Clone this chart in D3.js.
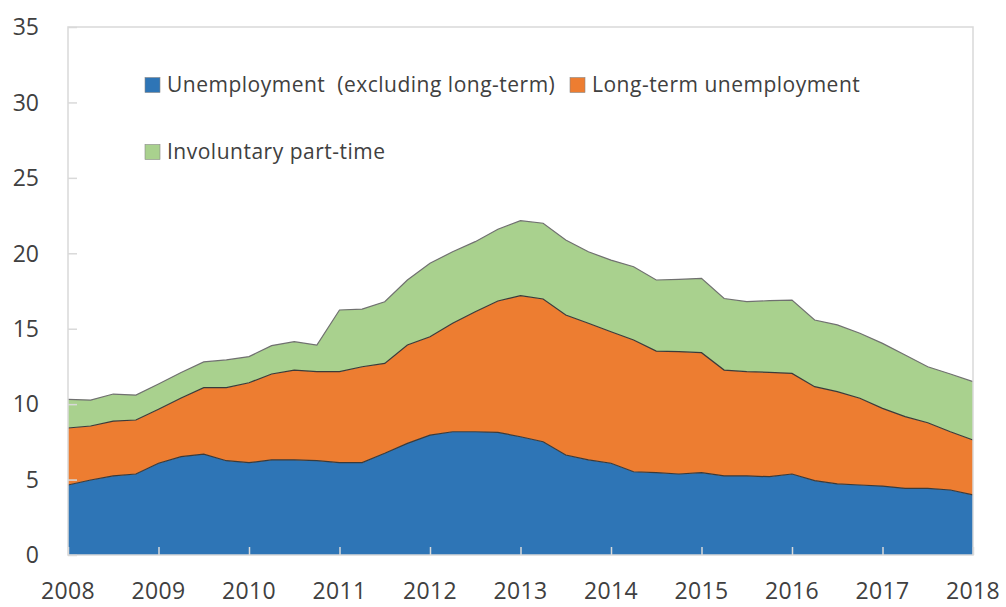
<!DOCTYPE html>
<html>
<head>
<meta charset="utf-8">
<script src="https://cdn.jsdelivr.net/npm/d3@7"></script>
<style>
  body { margin: 0; background: #fff; }
  svg { display: block; font-family: "Open Sans", "Noto Sans", sans-serif; }
</style>
</head>
<body>
<div id="chart"></div>
<script>
// quarterly, 2008Q1 .. 2018Q1
const startYear = 2008;
const unemployment = [4.64, 4.97, 5.24, 5.37, 6.08, 6.52, 6.69, 6.25, 6.12, 6.3, 6.3, 6.25, 6.12, 6.12, 6.74, 7.4,
    7.95, 8.17, 8.17, 8.13, 7.84, 7.51, 6.63, 6.3, 6.08, 5.52, 5.46, 5.37, 5.46, 5.24, 5.24, 5.19,
    5.37, 4.93, 4.71, 4.64, 4.57, 4.42, 4.42, 4.31, 3.98];
const longTerm = [3.78, 3.58, 3.64, 3.58, 3.58, 3.89, 4.4, 4.84, 5.3, 5.7, 5.96, 5.9, 6.03, 6.36, 5.96, 6.52,
    6.52, 7.19, 7.96, 8.71, 9.35, 9.46, 9.28, 9.06, 8.72, 8.73, 8.06, 8.11, 7.95, 7.02, 6.91, 6.92,
    6.67, 6.23, 6.12, 5.75, 5.15, 4.75, 4.35, 3.86, 3.64];
const partTime = [1.9, 1.72, 1.79, 1.65, 1.67, 1.69, 1.71, 1.84, 1.73, 1.88, 1.88, 1.77, 4.09, 3.82, 4.09, 4.31,
    4.87, 4.74, 4.64, 4.75, 4.97, 5.02, 4.97, 4.74, 4.75, 4.86, 4.71, 4.79, 4.93, 4.74, 4.64, 4.75,
    4.86, 4.42, 4.42, 4.31, 4.31, 4.09, 3.71, 3.83, 3.87];
const yearTicks = d3.range(2008, 2019);
const yTicks = [0, 5, 10, 15, 20, 25, 30, 35];

const keys = ['unemp', 'longterm', 'parttime'];
const labels = {
    unemp: 'Unemployment  (excluding long-term)',
    longterm: 'Long-term unemployment',
    parttime: 'Involuntary part-time'
};
const colors = { unemp: '#2e75b6', longterm: '#ed7d31', parttime: '#a9d18e' };

const data = unemployment.map((v, i) => ({
    t: startYear + i / 4,
    unemp: v,
    longterm: longTerm[i],
    parttime: partTime[i]
}));

const width = 1006, height = 607;
const margin = { top: 27, right: 33, bottom: 52, left: 68 };

const svg = d3.select('#chart').append('svg')
    .attr('width', width)
    .attr('height', height);

const x = d3.scaleLinear()
    .domain([2008, 2018])
    .range([margin.left, width - margin.right]);

const y = d3.scaleLinear()
    .domain([0, 35])
    .range([height - margin.bottom, margin.top]);

const stacked = d3.stack().keys(keys)(data);

const area = d3.area()
    .x(d => x(d.data.t))
    .y0(d => y(d[0]))
    .y1(d => y(d[1]));

const topLine = d3.line()
    .x(d => x(d.data.t))
    .y(d => y(d[1]));

svg.append('g')
    .selectAll('path')
    .data(stacked)
    .join('path')
    .attr('fill', d => colors[d.key])
    .attr('d', area);

svg.append('g')
    .selectAll('path')
    .data(stacked)
    .join('path')
    .attr('fill', 'none')
    .attr('stroke', d => d.key === 'parttime' ? '#707070' : '#3a3a3a')
    .attr('stroke-width', 1.2)
    .attr('d', topLine);

// frame
const frameColor = '#d9d9d9';
svg.append('rect')
    .attr('x', x(2008))
    .attr('y', y(35))
    .attr('width', x(2018) - x(2008))
    .attr('height', y(0) - y(35))
    .attr('fill', 'none')
    .attr('stroke', frameColor)
    .attr('stroke-width', 1.5);

// y axis
const yAxis = svg.append('g')
    .attr('transform', `translate(${x(2008)},0)`)
    .call(d3.axisRight(y).tickValues(yTicks).tickSize(9).tickFormat(''));
yAxis.select('.domain').remove();
yAxis.selectAll('line').attr('stroke', frameColor).attr('stroke-width', 1.5);

svg.append('g')
    .selectAll('text')
    .data(yTicks)
    .join('text')
    .attr('x', 39)
    .attr('y', d => y(d))
    .attr('dy', '0.36em')
    .attr('text-anchor', 'end')
    .attr('font-size', 23)
    .attr('fill', '#404040')
    .text(d => d);

// x axis
const xAxis = svg.append('g')
    .attr('transform', `translate(0,${y(0)})`)
    .call(d3.axisTop(x).tickValues(yearTicks).tickSize(8).tickFormat(''));
xAxis.select('.domain').remove();
xAxis.selectAll('line').attr('stroke', frameColor).attr('stroke-width', 1.5);

svg.append('g')
    .selectAll('text')
    .data(yearTicks)
    .join('text')
    .attr('x', d => x(d))
    .attr('y', 599)
    .attr('text-anchor', 'middle')
    .attr('font-size', 23)
    .attr('letter-spacing', 0.3)
    .attr('fill', '#404040')
    .text(d => d);

// legend
const legendItems = [
    { key: 'unemp', x: 145, y: 85 },
    { key: 'longterm', x: 570, y: 85 },
    { key: 'parttime', x: 145, y: 152 }
];

const legend = svg.append('g')
    .selectAll('g')
    .data(legendItems)
    .join('g')
    .attr('transform', d => `translate(${d.x},${d.y})`);

legend.append('rect')
    .attr('x', 0)
    .attr('y', -7.5)
    .attr('width', 15)
    .attr('height', 15)
    .attr('fill', d => colors[d.key])
    .attr('stroke', '#888')
    .attr('stroke-width', 0.6);

legend.append('text')
    .attr('x', 22)
    .attr('dy', '0.35em')
    .attr('font-size', 21)
    .attr('letter-spacing', 0.5)
    .attr('xml:space', 'preserve')
    .style('white-space', 'pre')
    .attr('fill', '#404040')
    .text(d => labels[d.key]);
</script>
</body>
</html>
